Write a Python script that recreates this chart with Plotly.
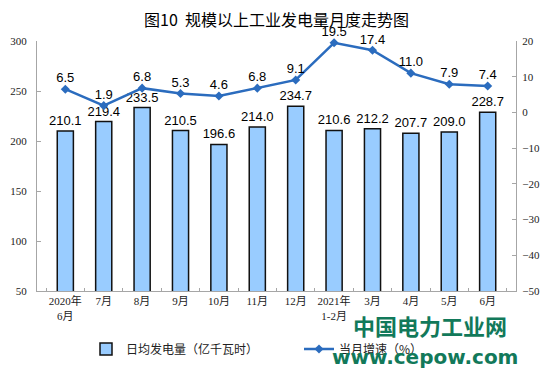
import plotly.graph_objects as go

categories = ["2020年<br>6月", "7月", "8月", "9月", "10月", "11月", "12月",
              "2021年<br>1-2月", "3月", "4月", "5月", "6月"]
daily_output = [210.1, 219.4, 233.5, 210.5, 196.6, 214.0, 234.7, 210.6, 212.2, 207.7, 209.0, 228.7]
growth_rate = [6.5, 1.9, 6.8, 5.3, 4.6, 6.8, 9.1, 19.5, 17.4, 11.0, 7.9, 7.4]

bar_name = "日均发电量（亿千瓦时）"
line_name = "当月增速（%）"
title_text = "图10  规模以上工业发电量月度走势图"

num_font = "Liberation Sans, Arial, sans-serif"
axis_font = "Liberation Serif, Noto Sans CJK SC, serif"
cjk_font = "Noto Sans CJK SC, sans-serif"

fig = go.Figure()
fig.add_trace(go.Bar(
    x=categories, y=daily_output, name=bar_name,
    marker=dict(color="#99CCFF", line=dict(color="#111111", width=1.5)),
    width=0.42,
    text=[f"{v:.1f}" for v in daily_output], textposition="outside",
    constraintext="none", textangle=0,
    textfont=dict(family=num_font, size=13, color="#000000"),
    cliponaxis=False,
))
fig.add_trace(go.Scatter(
    x=categories, y=growth_rate, name=line_name, yaxis="y2",
    mode="lines+markers",
    line=dict(color="#2B6CBE", width=2.5),
    marker=dict(symbol="diamond", size=7, color="#2B6CBE"),
    cliponaxis=False,
))
fig.add_trace(go.Scatter(
    x=categories, y=growth_rate, yaxis="y2", mode="markers+text", showlegend=False,
    marker=dict(size=4, color="rgba(0,0,0,0)"),
    text=[f"{v:.1f}" for v in growth_rate], textposition="top center",
    textfont=dict(family=num_font, size=13, color="#000000"),
    cliponaxis=False, hoverinfo="skip",
))

axis_color = "#A6A6A6"
fig.update_layout(
    width=554, height=381,
    margin=dict(l=37, r=38, t=41, b=90),
    paper_bgcolor="white", plot_bgcolor="white",
    showlegend=True,
    title=dict(text=title_text, x=0.5, xanchor="center", xref="paper",
               yref="container", y=1 - 20 / 381, yanchor="middle",
               font=dict(family=cjk_font, size=16, color="#000000")),
    xaxis=dict(
        type="category", showline=True, linecolor=axis_color, linewidth=1,
        ticks="inside", tickson="boundaries", ticklen=3, tickcolor=axis_color,
        tickangle=0, automargin=False,
        tickfont=dict(family=axis_font, size=11, color="#222222"),
        showgrid=False, zeroline=False,
    ),
    yaxis=dict(
        range=[50, 300], dtick=50, showline=True, linecolor=axis_color, linewidth=1,
        ticks="inside", ticklen=4, tickcolor=axis_color, automargin=False,
        tickfont=dict(family=axis_font, size=11, color="#222222"),
        ticklabelstandoff=7,
        showgrid=False, zeroline=False,
    ),
    yaxis2=dict(
        range=[-50, 20], dtick=10, overlaying="y", side="right",
        showline=True, linecolor=axis_color, linewidth=1, automargin=False,
        ticks="inside", ticklen=4, tickcolor=axis_color,
        tickfont=dict(family=axis_font, size=11, color="#222222"),
        ticklabelstandoff=3,
        showgrid=False, zeroline=False,
    ),
    legend=dict(
        orientation="h", x=(86 - 37) / 479, xanchor="left",
        y=(291 - 349) / 250, yanchor="middle",
        entrywidth=168, entrywidthmode="pixels",
        font=dict(family=cjk_font, size=12, color="#222222"),
        bgcolor="rgba(0,0,0,0)",
    ),
    annotations=[
        dict(text="<b>中国电力工业网</b>", xref="paper", yref="paper",
             x=(430 - 37) / 479, y=(291 - 325) / 250, xanchor="center", yanchor="middle",
             showarrow=False, font=dict(family=cjk_font, size=22, color="#12795A")),
        dict(text="<b>www.cepow.com</b>", xref="paper", yref="paper",
             x=(425 - 37) / 479, y=(291 - 357) / 250, xanchor="center", yanchor="middle",
             showarrow=False, font=dict(family="DejaVu Sans, sans-serif", size=20, color="#12795A")),
    ],
)

fig.write_html("out.html", config={"displayModeBar": False},
               post_script="document.body.style.margin='0';document.body.style.overflow='hidden';")
